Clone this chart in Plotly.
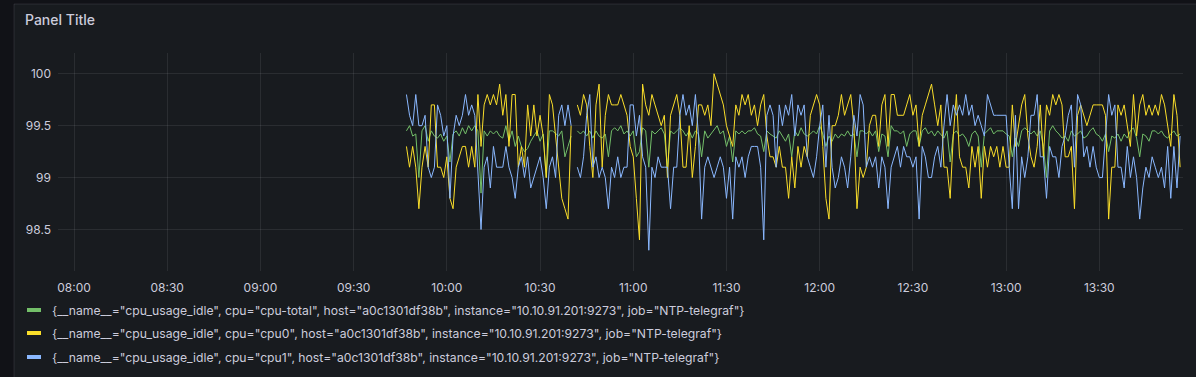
import pandas as pd
import plotly.graph_objects as go

# ---- data (1-minute samples starting 09:47) ----
start_time = "2024-01-01 09:47"

cpu_total = [
    99.45, 99.5, 99.4, 99.42, 99.0, 99.45, 99.5, 99.35, 99.45, 99.4,
    99.38, 99.42, 99.35, 99.4, 99.15, 99.42, 99.45, 99.4, 99.48, 99.42,
    99.5, 99.45, 99.5, 99.45, 98.85, 99.45, 99.4, 99.45, 99.42, 99.45,
    99.4, 99.38, 99.5, 99.35, 99.45, 99.3, 99.4, 99.3, 99.25, 99.28,
    99.35, 99.4, 99.45, 99.35, 99.42, 99.0, 99.45, 99.45, 99.42,
    99.4, 99.45, 99.2, 99.3, 99.4, None, 99.45, 99.42, 99.45, 99.4,
    99.45, 99.38, 99.45, 99.4, 99.38, 99.42, 99.2, 99.45, 99.48, 99.45,
    99.5, 99.42, 99.45, 99.4, 99.45, 99.2, 99.25, 99.48, 99.45, 99.1,
    99.45, 99.42, 99.45, 99.48, 99.42, 99.1, 99.45, 99.42, 99.45, 99.48,
    99.45, 99.4, 99.45, 99.38, 99.45, 99.42, 99.2, 99.45, 99.38, 99.42,
    99.45,
    99.5, 99.42, 99.45, 99.3, 99.4, 99.15, 99.45, 99.42, 99.45, 99.42,
    99.45, 99.45, 99.48, 99.42, 99.4, 99.25, 99.45, 99.42, 99.4, 99.38,
    99.45, 99.4, 99.35, 99.42, 99.2, 99.45, 99.4, 99.48, 99.42, 99.4,
    99.42, 99.45, 99.42, 99.5, 99.42, 99.3, 99.4, 99.35, 99.42, 99.38,
    99.42, 99.4, 99.45, 99.4, 99.42, 99.2, 99.45, 99.45, 99.42, 99.45,
    99.4, 99.45, 99.25, 99.42, 99.4, 99.2, 99.5, 99.45, 99.45, 99.42,
    99.45, 99.3, 99.42, 99.45, 99.45, 99.3, 99.45, 99.48, 99.42, 99.45,
    99.4, 99.45, 99.42, 99.38, 99.45, 99.15, 99.42, 99.45, 99.4, 99.42,
    99.38, 99.3, 99.42, 99.45, 99.4, 99.1, 99.42, 99.45, 99.48, 99.42,
    99.45, 99.45, 99.45, 99.42, 99.4, 99.2, 99.38, 99.3, 99.45, 99.48,
    99.45,
    99.42, 99.45, 99.4, 99.45, 99.3, 99.0, 99.45, 99.5, 99.45, 99.42,
    99.38, 99.4, 99.35, 99.45, 99.4, 99.42, 99.45, 99.38, 99.4, 99.45,
    99.48, 99.42, 99.4, 99.35, 99.42, 99.25, 99.4, 99.38, 99.42, 99.35,
    99.42, 99.38, 99.45, 99.48, 99.38, 99.2, 99.42, 99.4, 99.35, 99.45,
    99.45, 99.42, 99.45, 99.4, 99.38, 99.42, 99.45, 99.4, 99.42,
]

cpu0 = [
    99.3, 99.1, 99.3, 99.1, 98.7, 99.1, 99.3, 99.1, 99.7, 99.7,
    99.1, 99.1, 99.0, 99.2, 98.8, 98.7, 99.1, 99.2, 99.3, 99.3,
    99.1, 99.3, 99.1, 99.8, 99.3, 99.7, 99.8, 99.7, 99.8, 99.7,
    99.9, 99.6, 99.8, 99.3, 99.8, 99.8, 99.1, 99.3, 99.1, 99.7,
    99.4, 99.7, 99.4, 99.6, 99.4, 99.0, 99.8, 99.7, 99.4,
    99.1, 98.8, 98.7, 98.6, 99.5, None, 99.7, 99.6, 99.8, 99.7,
    99.3, 99.0, 99.7, 99.9, 99.1, 99.6, 99.8, 99.7, 99.7, 99.7,
    99.8, 99.7, 99.6, 99.3, 99.2, 98.8, 98.4, 99.9, 99.7, 99.6,
    99.8, 99.7, 99.6, 99.5, 99.6, 99.0, 99.6, 99.7, 99.8, 99.6,
    99.1, 99.1, 99.5, 99.0, 99.3, 99.7, 99.7, 99.6, 99.7, 99.5,
    100.0,
    99.9, 99.8, 99.7, 99.5, 99.4, 99.3, 99.7, 99.6, 99.8, 99.7,
    99.8, 99.6, 99.7, 99.5, 99.7, 99.8, 99.4, 99.2, 99.2, 99.1,
    99.3, 99.1, 99.1, 98.8, 99.2, 98.9, 99.3, 99.1, 99.3, 99.2,
    99.6, 99.7, 99.8, 99.7, 99.3, 98.8, 98.6, 99.5, 99.5, 99.6,
    99.8, 99.6, 99.7, 99.8, 99.5, 98.7, 99.1, 99.0, 99.1, 99.5,
    99.6, 99.6, 99.3, 99.7, 99.8, 99.3, 99.8, 99.8, 99.6, 99.6,
    99.6, 99.7, 99.8, 99.6, 99.7, 99.3, 99.6, 99.7, 99.8, 99.9,
    99.7, 99.5, 99.7, 99.1, 99.1, 98.8, 99.4, 99.8, 99.2, 99.1,
    99.1, 98.9, 99.3, 99.1, 99.3, 98.8, 99.3, 99.1, 99.3, 99.2,
    99.3, 99.1, 99.3, 99.1, 99.1, 99.7, 99.3, 99.5, 99.7, 99.8,
    99.4,
    99.2, 99.1, 99.3, 99.7, 99.2, 99.7, 99.6, 99.8, 99.7, 99.8,
    99.7, 99.2, 99.2, 99.3, 98.7, 99.6, 99.7, 99.6, 99.5, 99.6,
    99.7, 99.7, 99.7, 99.7, 99.6, 98.6, 99.1, 99.1, 99.7, 99.6,
    99.7, 99.5, 99.3, 99.8, 99.4, 99.7, 99.8, 99.6, 99.7, 99.6,
    99.7, 99.6, 99.8, 99.7, 99.5, 99.3, 99.8, 99.6, 99.1,
]

cpu1 = [
    99.8, 99.6, 99.5, 99.8, 99.5, 99.5, 99.6, 99.1, 99.0, 99.1,
    99.7, 99.6, 99.4, 99.5, 98.8, 99.4, 99.6, 99.5, 99.6, 99.8,
    99.6, 99.7, 99.6, 99.1, 98.5, 99.1, 99.2, 98.9, 99.3, 99.1,
    99.1, 99.1, 99.3, 99.1, 99.0, 98.8, 99.1, 99.2, 99.0, 99.2,
    98.9, 99.0, 99.1, 99.2, 99.0, 98.7, 99.1, 99.2, 99.0,
    99.6, 99.7, 99.5, 99.7, 99.5, None, 99.1, 99.0, 99.2, 99.6,
    99.8, 99.1, 99.2, 99.0, 99.1, 99.0, 98.7, 99.1, 99.0, 99.2,
    99.0, 99.1, 99.1, 99.7, 99.7, 99.4, 99.6, 99.2, 99.1, 98.3,
    99.1, 99.0, 99.2, 99.1, 99.1, 99.1, 98.7, 99.1, 99.1, 99.6,
    99.8, 99.6, 99.7, 99.5, 99.8, 99.4, 98.6, 99.1, 99.2, 99.1,
    99.0,
    99.1, 99.2, 99.1, 98.8, 99.1, 98.6, 99.2, 99.1, 99.2, 99.0,
    99.2, 99.3, 99.3, 99.3, 99.1, 98.4, 99.6, 99.7, 99.6, 99.1,
    99.7, 99.5, 99.7, 99.6, 99.8, 99.4, 99.7, 99.6, 99.7, 99.2,
    99.1, 99.0, 99.2, 99.5, 99.7, 99.1, 99.6, 99.1, 98.9, 99.0,
    99.2, 99.1, 98.9, 99.2, 99.6, 99.4, 99.8, 99.7, 99.1, 99.2,
    99.1, 99.2, 98.9, 99.2, 99.1, 98.7, 99.1, 99.2, 99.3, 99.1,
    99.3, 99.2, 99.2, 99.1, 99.2, 98.6, 99.3, 99.2, 99.0, 99.0,
    99.2, 99.3, 99.1, 99.5, 99.8, 99.5, 99.7, 99.6, 99.7, 99.6,
    99.8, 99.6, 99.7, 99.5, 99.6, 99.5, 99.4, 99.8, 99.7, 99.6,
    99.6, 99.6, 99.6, 99.6, 99.1, 98.7, 99.6, 98.7, 99.2, 99.0,
    99.2,
    99.6, 99.6, 99.8, 99.2, 99.2, 98.8, 99.3, 99.2, 99.2, 99.0,
    99.3, 99.4, 99.6, 99.7, 99.1, 99.8, 99.7, 99.2, 99.3, 99.1,
    99.3, 99.1, 99.0, 99.0, 99.4, 99.8, 99.6, 99.7, 99.1, 99.1,
    98.9, 99.3, 99.0, 99.2, 99.0, 98.6, 98.9, 99.1, 99.0, 99.2,
    99.1, 99.0, 99.1, 98.9, 99.3, 98.8, 99.3, 98.9, 99.4,
]

series_names = [
    '{__name__="cpu_usage_idle", cpu="cpu-total", host="a0c1301df38b", instance="10.10.91.201:9273", job="NTP-telegraf"}',
    '{__name__="cpu_usage_idle", cpu="cpu0", host="a0c1301df38b", instance="10.10.91.201:9273", job="NTP-telegraf"}',
    '{__name__="cpu_usage_idle", cpu="cpu1", host="a0c1301df38b", instance="10.10.91.201:9273", job="NTP-telegraf"}',
]
series_colors = ["#73bf69", "#fade2a", "#8ab8ff"]
x_tick_labels = ["08:00", "08:30", "09:00", "09:30", "10:00", "10:30",
                 "11:00", "11:30", "12:00", "12:30", "13:00", "13:30"]
y_ticks = [98.5, 99, 99.5, 100]
y_tick_labels = ["98.5", "99", "99.5", "100"]

# ---- geometry ----
W, H = 1196, 377
L, R, T, B = 58, 1183, 53, 271
PW, PH = R - L, B - T


def px(x):
    return (x - L) / PW


def py(y):
    return (B - y) / PH


fig = go.Figure()
for vals, name, col in zip([cpu_total, cpu0, cpu1], series_names, series_colors):
    t = pd.date_range(start_time, periods=len(vals), freq="min")
    fig.add_trace(go.Scatter(x=t, y=vals, mode="lines", name=name,
                             line=dict(color=col, width=1),
                             connectgaps=False, showlegend=False))

day = "2024-01-01 "
tickvals = [pd.Timestamp(day + s) for s in x_tick_labels]

shapes = [
    dict(type="rect", xref="paper", yref="paper", layer="below",
         x0=px(14), x1=px(1205), y0=py(4), y1=py(385),
         fillcolor="#181b1f", line=dict(color="rgba(204,204,220,0.12)", width=1)),
]
annotations = [
    dict(text="Panel Title", xref="paper", yref="paper", x=px(23), y=py(20),
         xanchor="left", yanchor="middle", showarrow=False,
         font=dict(family="Inter", size=14, color="#ccccdc", weight=500)),
]
row_y = [310, 333, 357]
for name, col, ry in zip(series_names, series_colors, row_y):
    shapes.append(dict(type="rect", xref="paper", yref="paper",
                       x0=px(27), x1=px(41), y0=py(ry + 2), y1=py(ry - 2),
                       fillcolor=col, line=dict(width=0)))
    annotations.append(dict(text=name, xref="paper", yref="paper",
                            x=px(50), y=py(ry), xanchor="left", yanchor="middle",
                            showarrow=False,
                            font=dict(family="Inter", size=12.2, color="#ccccdc")))

grid = "rgba(204,204,220,0.10)"
fig.update_layout(
    width=W, height=H,
    margin=dict(l=L, r=W - R, t=T, b=H - B, pad=0),
    paper_bgcolor="#111217", plot_bgcolor="rgba(0,0,0,0)",
    font=dict(family="Inter", size=12, color="#ccccdc"),
    shapes=shapes, annotations=annotations,
    showlegend=False,
    xaxis=dict(type="date", automargin=False,
               range=[pd.Timestamp(day + "07:54:51"), pd.Timestamp(day + "13:56:56")],
               tickvals=tickvals, ticktext=x_tick_labels,
               showgrid=True, gridcolor=grid, gridwidth=1,
               zeroline=False, showline=False, ticks="",
               ticklabelstandoff=8,
               tickfont=dict(family="Inter", size=12, color="#ccccdc")),
    yaxis=dict(range=[98.1, 100.2], tickvals=y_ticks, ticktext=y_tick_labels,
               automargin=False,
               showgrid=True, gridcolor=grid, gridwidth=1,
               zeroline=False, showline=False, ticks="",
               ticklabelstandoff=6,
               tickfont=dict(family="Inter", size=12, color="#ccccdc")),
)

fig.write_html(
    "out.html",
    config={"displayModeBar": False},
    post_script="document.body.style.margin='0';document.body.style.background='#111217';",
)
